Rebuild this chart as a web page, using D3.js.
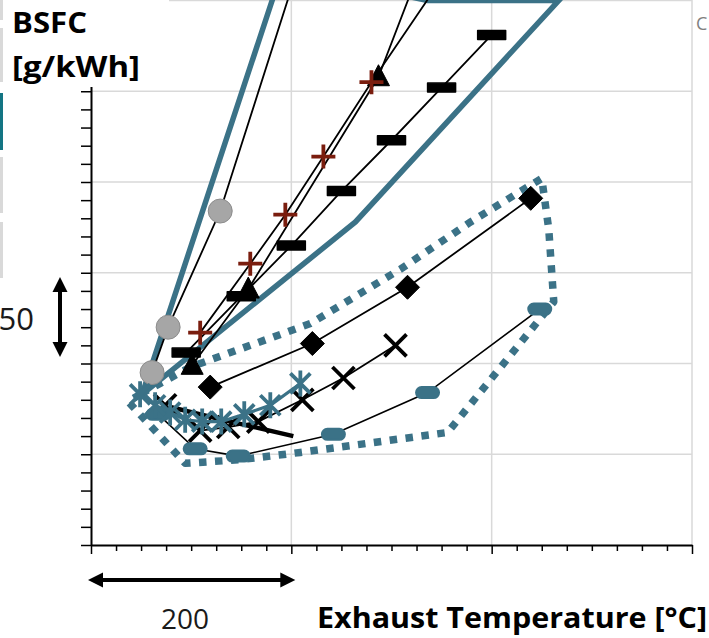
<!DOCTYPE html>
<html>
<head>
<meta charset="utf-8">
<script src="https://cdn.jsdelivr.net/npm/d3@7/dist/d3.min.js"></script>
<style>
  html, body { margin: 0; padding: 0; background: #fff; }
  svg { display: block; }
</style>
</head>
<body>
<svg id="chart" width="709" height="638"></svg>
<script>
// Exhaust temperature [°C] vs BSFC [g/kWh], one array of [T, BSFC] per operating line
const fullLoadOutline = [[151, 233], [364, 328], [567, 450], [436, 450], [291, 467], [151, 233]];
const dottedEnvelope = [[149, 233], [137, 229], [194, 195], [249, 197], [309, 201], [456, 212],
  [562, 284], [557, 324], [550, 352], [479, 328], [409, 302], [319, 272], [199, 248], [149, 233]];
const circleSeries = [[161, 245], [177, 270], [229, 334], [309, 472]];
const plusSeries = [[209, 267], [259, 305], [294, 332], [332, 364], [380, 405], [449, 461]];
const triangleSeries = [[201, 249], [257, 291], [387, 408], [424, 461]];
const dashSeries = [[195, 256], [250, 287], [300, 315], [350, 345], [400, 373], [450, 402], [500, 431]];
const diamondSeries = [[219, 237], [321, 261], [416, 292], [539, 341]];
const crossSeries = [[174, 227], [209, 213], [237, 215], [267, 218], [311, 230], [352, 242], [404, 260]];
const boldLineSeries = [[179, 226], [239, 218], [302, 210]];
const asteriskSeries = [[149, 233], [164, 227], [179, 223], [194, 219], [211, 218], [230, 218], [253, 222], [279, 227], [309, 239]];
const pillSeries = [[167, 222], [204, 203], [247, 199], [342, 211], [436, 234], [548, 280]];

const yGrid = [200, 250, 300, 350, 400, 450];
const xGrid = [300, 500, 700];
const yTicks = d3.range(150, 401, 10);
const xTicks = d3.range(100, 701, 25);

const yTitle = ["BSFC", "[g/kWh]"];
const xTitle = "Exhaust Temperature [°C]";
const xScaleLabel = "200";
const yScaleLabel = "50";

const TEAL = "#3b7287";
const RED = "#7a1d0e";

const svg = d3.select("#chart");
const x = d3.scaleLinear().domain([100, 700]).range([91, 692]);
const y = d3.scaleLinear().domain([150, 450]).range([545, 0.5]);
const line = d3.line().x(d => x(d[0])).y(d => y(d[1]));

// gridlines
svg.append("g").selectAll("line").data(yGrid).join("line")
  .attr("x1", x(100)).attr("x2", x(700))
  .attr("y1", d => y(d)).attr("y2", d => y(d))
  .attr("stroke", "#d9d9d9").attr("stroke-width", 1.5);
svg.append("g").selectAll("line").data(xGrid).join("line")
  .attr("x1", d => x(d)).attr("x2", d => x(d))
  .attr("y1", 0).attr("y2", y(150))
  .attr("stroke", "#d9d9d9").attr("stroke-width", 1.5);

// axes
const yAxis = svg.append("g").attr("transform", `translate(${x(100)},0)`)
  .call(d3.axisLeft(y).tickValues(yTicks).tickSize(10).tickSizeOuter(0).tickFormat(""));
const xAxis = svg.append("g").attr("transform", `translate(0,${y(150)})`)
  .call(d3.axisBottom(x).tickValues(xTicks).tickSizeOuter(0).tickFormat(""));
xAxis.selectAll(".tick line").attr("y2", d => (d % 200 === 100 ? 9 : 6));
[yAxis, xAxis].forEach(g => {
  g.select(".domain").attr("stroke", "#000").attr("stroke-width", 2);
  g.selectAll(".tick line").attr("stroke", "#000").attr("stroke-width", 1.5);
});

const plot = svg.append("g");

// full-load outline (thick solid teal)
plot.append("path").datum(fullLoadOutline).attr("d", line)
  .attr("fill", "none").attr("stroke", TEAL).attr("stroke-width", 5.5).attr("stroke-linejoin", "miter");

// dotted operating envelope
plot.append("path").datum(dottedEnvelope).attr("d", line)
  .attr("fill", "none").attr("stroke", TEAL).attr("stroke-width", 7.5)
  .attr("stroke-dasharray", "7.5,8.5").attr("stroke-linejoin", "round");

function drawLine(data, color, width) {
  plot.append("path").datum(data).attr("d", line)
    .attr("fill", "none").attr("stroke", color).attr("stroke-width", width);
}

const markerPaths = {
  circle: "M-12,0A12,12 0 1,0 12,0A12,12 0 1,0 -12,0Z",
  diamond: "M0,-12L12,0L0,12L-12,0Z",
  triangle: "M0,-12L11,9L-11,9Z",
  dash: "M-14,-4.5H14V4.5H-14Z",
  pill: "M-6,-5.5H6A5.5,5.5 0 0,1 6,5.5H-6A5.5,5.5 0 0,1 -6,-5.5Z",
  plus: "M-12,0H12M0,-12V12",
  cross: "M-11,-11L11,11M-11,11L11,-11",
  asterisk: "M-10,-10L10,10M-10,10L10,-10M0,-13V13"
};

function drawMarkers(data, kind, fill, stroke, sw) {
  plot.append("g").selectAll("path").data(data).join("path")
    .attr("transform", d => `translate(${x(d[0])},${y(d[1])})`)
    .attr("d", markerPaths[kind])
    .attr("fill", fill).attr("stroke", stroke).attr("stroke-width", sw)
    .attr("stroke-linejoin", "round");
}

// black operating lines
drawLine(circleSeries, "#000", 1.8);
drawMarkers(circleSeries, "circle", "#a6a6a6", "#8c8c8c", 1);

drawLine(dashSeries, "#000", 1.8);
drawMarkers(dashSeries, "dash", "#000", "#000", 1.5);

drawLine(triangleSeries, "#000", 1.8);
drawMarkers(triangleSeries, "triangle", "#000", "#000", 1);

drawLine(plusSeries, "#000", 1.8);
drawMarkers(plusSeries, "plus", "none", RED, 3.8);

drawLine(diamondSeries, "#000", 1.8);
drawMarkers(diamondSeries, "diamond", "#000", "#000", 1);

drawLine(boldLineSeries, "#000", 4.5);

drawLine(crossSeries, "#000", 1.8);
drawMarkers(crossSeries, "cross", "none", "#000", 3.8);

// teal operating lines
drawLine(pillSeries, "#000", 1.6);
drawMarkers(pillSeries, "pill", TEAL, TEAL, 2);

drawLine(asteriskSeries, TEAL, 3.2);
drawMarkers(asteriskSeries, "asterisk", "none", TEAL, 3.8);

// title block background
svg.append("rect").attr("x", 4).attr("y", 0).attr("width", 165).attr("height", 87).attr("fill", "#fff");

// small legend remnants along the edges
const edgeBars = [[0, 20, "#d9d9d9"], [28, 54, "#d9d9d9"], [93, 57, "#137583"], [157, 56, "#d9d9d9"], [222, 56, "#d9d9d9"]];
svg.append("g").selectAll("rect").data(edgeBars).join("rect")
  .attr("x", 0).attr("y", d => d[0]).attr("width", 3).attr("height", d => d[1]).attr("fill", d => d[2]);
svg.append("text").attr("x", 696).attr("y", 30).text("C")
  .attr("font-family", "Open Sans").attr("font-size", 18).attr("fill", "#7f7f7f");

// axis titles
const tf = "'Open Sans', sans-serif";
svg.append("text").attr("x", 12).attr("y", 33).text(yTitle[0])
  .attr("font-family", tf).attr("font-weight", 700).attr("font-size", 29)
  .attr("textLength", 75).attr("lengthAdjust", "spacingAndGlyphs");
svg.append("text").attr("x", 12).attr("y", 77).text(yTitle[1])
  .attr("font-family", tf).attr("font-weight", 700).attr("font-size", 29)
  .attr("textLength", 128).attr("lengthAdjust", "spacingAndGlyphs");
svg.append("text").attr("x", 317).attr("y", 628).text(xTitle)
  .attr("font-family", tf).attr("font-weight", 700).attr("font-size", 28)
  .attr("textLength", 390).attr("lengthAdjust", "spacingAndGlyphs");

// scale hints: 200 °C horizontal, 50 g/kWh vertical
svg.append("text").attr("x", 185).attr("y", 629).attr("text-anchor", "middle").text(xScaleLabel)
  .attr("font-family", tf).attr("font-size", 28).attr("fill", "#1a1a1a");
svg.append("text").attr("x", 34).attr("y", 330).attr("text-anchor", "end").text(yScaleLabel)
  .attr("font-family", tf).attr("font-size", 31).attr("fill", "#1a1a1a");

function doubleArrow(x1, y1, x2, y2) {
  const g = svg.append("g");
  const ang = Math.atan2(y2 - y1, x2 - x1);
  const L = 15, Wd = 7.5;
  const ux = Math.cos(ang), uy = Math.sin(ang);
  g.append("line").attr("x1", x1 + ux * L * 0.8).attr("y1", y1 + uy * L * 0.8)
    .attr("x2", x2 - ux * L * 0.8).attr("y2", y2 - uy * L * 0.8)
    .attr("stroke", "#000").attr("stroke-width", 4);
  const head = (px, py, dir) => {
    const bx = px + dir * ux * L, by = py + dir * uy * L;
    return `M${px},${py}L${bx - uy * Wd},${by + ux * Wd}L${bx + uy * Wd},${by - ux * Wd}Z`;
  };
  g.append("path").attr("d", head(x1, y1, 1)).attr("fill", "#000");
  g.append("path").attr("d", head(x2, y2, -1)).attr("fill", "#000");
}
doubleArrow(x(97), 580, x(304), 580);
doubleArrow(60, 277, 60, 357);
</script>
</body>
</html>
